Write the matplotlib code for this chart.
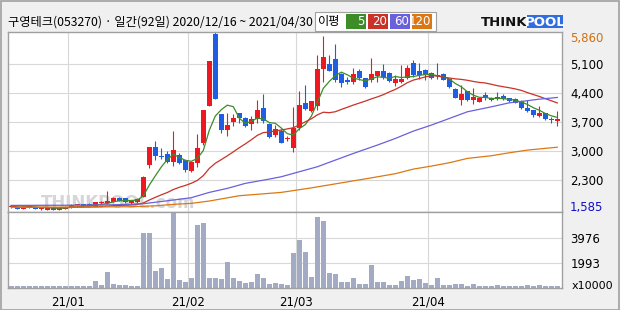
import numpy as np
import pandas as pd
import matplotlib
matplotlib.use("Agg")
import matplotlib.pyplot as plt
from matplotlib.patches import Rectangle

# --- data (daily, 2020/12/16 ~ 2021/04/30) ---
opens = [1655, 1670, 1625, 1645, 1670, 1605, 1597, 1645, 1590, 1625,
         1645, 1700, 1725, 1740, 1695, 1760, 1750, 1790, 1885, 1870,
         1750, 1775, 1910, 2666, 3105, 2890, 2930, 2746, 2906, 2786,
         2530, 2706, 3185, 4078, 5801, 3887, 3504, 3695, 3903, 3799,
         3647, 3759, 4022, 3647, 3384, 3488, 3300, 3081, 3560, 4158,
         3967, 4078, 4979, 5099, 5203, 4860, 4700, 4660, 4915, 4756,
         4700, 4796, 4915, 4884, 4637, 4660, 4764, 5115, 4915, 4940,
         4884, 4836, 4860, 4724, 4501, 4222, 4437, 4222, 4182, 4341,
         4262, 4286, 4318, 4270, 4238, 4198, 4038, 3982, 3839, 3903,
         3750, 3727]
highs = [1700, 1680, 1675, 1695, 1685, 1655, 1650, 1655, 1655, 1680,
         1730, 1720, 1735, 1750, 1780, 1810, 2045, 1890, 1895, 1885,
         1820, 1870, 2395, 3110, 3241, 3081, 3009, 3480, 2946, 2794,
         2760, 3400, 3990, 5160, 5860, 3900, 3903, 3879, 3910, 3823,
         3839, 4222, 4365, 3680, 3620, 3520, 3360, 4046, 4445, 4580,
         4205, 5299, 5753, 5299, 5562, 4870, 4780, 5003, 4963, 4760,
         5235, 4930, 5099, 4890, 4836, 5059, 5059, 5179, 5115, 4980,
         4900, 5115, 4870, 4740, 4510, 4581, 4445, 4525, 4290, 4421,
         4302, 4421, 4365, 4278, 4262, 4222, 4222, 3990, 4078, 3910,
         3823, 3958]
lows = [1645, 1615, 1615, 1640, 1605, 1600, 1590, 1585, 1588, 1615,
        1640, 1665, 1670, 1680, 1690, 1745, 1745, 1780, 1805, 1760,
        1740, 1765, 1905, 2586, 2786, 2802, 2706, 2642, 2690, 2507,
        2507, 2626, 3145, 4070, 4240, 3440, 3360, 3600, 3680, 3590,
        3504, 3680, 3663, 3304, 3340, 3190, 3250, 2985, 3504, 3982,
        3950, 3982, 4660, 4915, 4660, 4541, 4597, 4597, 4716, 4517,
        4660, 4645, 4740, 4645, 4557, 4621, 4740, 4780, 4724, 4700,
        4740, 4724, 4700, 4525, 4270, 4102, 4210, 4126, 4170, 4222,
        4198, 4222, 4222, 4182, 4142, 3998, 3942, 3823, 3823, 3743,
        3679, 3600]
closes = [1690, 1625, 1665, 1685, 1615, 1645, 1645, 1595, 1645, 1670,
          1710, 1705, 1680, 1690, 1775, 1770, 1810, 1885, 1815, 1775,
          1810, 1855, 2390, 3105, 2882, 2870, 2746, 3025, 2722, 2547,
          2746, 3081, 3982, 5155, 4246, 3504, 3624, 3799, 3791, 3600,
          3775, 3982, 3719, 3344, 3520, 3201, 3310, 3560, 4102, 4007,
          4198, 4963, 5259, 4924, 4700, 4621, 4645, 4860, 4756, 4541,
          4844, 4915, 4780, 4676, 4724, 4724, 4995, 4820, 4820, 4820,
          4756, 4812, 4716, 4541, 4278, 4365, 4222, 4302, 4278, 4278,
          4222, 4254, 4254, 4206, 4158, 4022, 3958, 3863, 3903, 3767,
          3743, 3767]
# volume in units of 10,000 shares
volume = [110, 110, 110, 110, 110, 110, 110, 110, 110, 110,
          110, 110, 110, 110, 531, 190, 1221, 270, 190, 190,
          110, 110, 4338, 4338, 1327, 1565, 690, 6200, 587, 428,
          745, 4948, 5133, 745, 745, 690, 2038, 745, 531, 372,
          451, 1062, 745, 270, 372, 270, 190, 2752, 3759, 2831,
          824, 5607, 5265, 1142, 1062, 428, 428, 745, 270, 270,
          1776, 428, 428, 190, 190, 507, 904, 587, 666, 349,
          190, 745, 190, 190, 270, 270, 110, 270, 110, 110,
          110, 190, 110, 110, 110, 110, 190, 110, 190, 110,
          110, 110]

ma60_idx = [0, 10, 17, 22, 27, 30, 33, 36, 39, 43, 45, 47, 51, 54, 57, 61, 64, 67,
            70, 73, 76, 80, 83, 85, 88, 91]
ma60_val = [1700, 1705, 1715, 1740, 1829, 1885, 2012, 2108, 2228, 2331, 2387, 2467,
            2626, 2786, 2945, 3145, 3304, 3480, 3624, 3783, 3943, 4062, 4158, 4190,
            4246, 4286]
ma120_idx = [0, 10, 20, 24, 27, 30, 33, 38, 45, 50, 55, 60, 64, 67, 70, 73, 76, 80,
             83, 86, 91]
ma120_val = [1655, 1660, 1668, 1690, 1725, 1749, 1805, 1932, 2012, 2120, 2240, 2360,
             2460, 2570, 2642, 2722, 2826, 2890, 2961, 3025, 3095]

month_start = [10, 30, 48, 70]
month_labels = ["21/01", "21/02", "21/03", "21/04"]
price_ticks = [2300, 3000, 3700, 4400, 5100]
vol_ticks = [1993, 3976]

title = "구영테크(053270) · 일간(92일) 2020/12/16 ~ 2021/04/30"
ma_names = ["5", "20", "60", "120"]
ma_colors = ["#3c8c28", "#c83228", "#6a60dc", "#dc7814"]

UP = "#f01820"
DOWN = "#1f5ee2"
BG = "#f0f0f0"
GRID = "#d8d8d8"
FRAME = "#a0a0a0"
narrow = ["Liberation Sans Narrow", "DejaVu Sans"]
kr = ["Noto Sans CJK KR", "DejaVu Sans"]

W, H = 620, 310
def fx(px):
    return px / W
def fy(py):
    return 1 - py / H

fig = plt.figure(figsize=(6.2, 3.1), dpi=100, facecolor=BG)
ax = fig.add_axes([fx(7.7), fy(212.3), fx(562.3 - 7.7), (212.3 - 31.7) / H])
axv = fig.add_axes([fx(7.7), fy(287.7), fx(562.3 - 7.7), (287.7 - 212.3) / H], sharex=ax)

o = np.array(opens); c = np.array(closes); hi = np.array(highs); lo = np.array(lows)
x = np.arange(len(o))
cols = np.where(c >= o, UP, DOWN)

# candles
ax.vlines(x, lo, hi, colors=cols, lw=0.8, zorder=2)
body = np.maximum(np.abs(c - o), 22)
ax.bar(x, body, bottom=np.minimum(o, c), width=0.82, color=cols, linewidth=0, zorder=2)

# moving averages
s = pd.Series(closes)
ax.plot(x, s.rolling(5, min_periods=1).mean(), color=ma_colors[0], lw=0.9, zorder=3)
ax.plot(x, s.rolling(20, min_periods=1).mean(), color=ma_colors[1], lw=0.9, zorder=3)
ax.plot(ma60_idx, ma60_val, color=ma_colors[2], lw=0.9, zorder=3)
ax.plot(ma120_idx, ma120_val, color=ma_colors[3], lw=0.9, zorder=3)

# watermark
ax.text(0.06, 0.025, "THINKPOOL.com", transform=ax.transAxes, fontsize=12, fontweight="bold",
        color="#d6d6d6", zorder=0.5)

ax.set_xlim(-0.6, 91.83)
ax.set_ylim(1535, 5862)
ax.set_yticks(price_ticks)
ax.set_yticklabels([f"{v:,}" for v in price_ticks])
ax.yaxis.tick_right()
ax.tick_params(axis="y", length=0, pad=5.5, labelsize=8.5)
ax.tick_params(axis="x", length=0, labelbottom=False)
ax.set_xticks([m - 0.5 for m in month_start])
for lab in ax.get_yticklabels():
    lab.set_family(narrow)
ax.grid(True, color=GRID, lw=0.8, zorder=0)
ax.set_axisbelow(True)

# highest / lowest price labels
ax.annotate(f"{max(highs):,}", xy=(1, max(highs)), xycoords=ax.get_yaxis_transform(),
            xytext=(5.5, -4.7), textcoords="offset points", va="center", ha="left",
            fontsize=8.5, color="#d07010", family=narrow, annotation_clip=False)
ax.annotate(f"{min(lows):,}", xy=(1, min(lows)), xycoords=ax.get_yaxis_transform(),
            xytext=(5.5, 2.3), textcoords="offset points", va="center", ha="left",
            fontsize=8.5, color="#1010c8", family=narrow, annotation_clip=False)

# volume
axv.bar(x, volume, width=0.82, color="#a2aac4", linewidth=0, zorder=2)
axv.set_ylim(0, 5980)
axv.set_yticks(vol_ticks)
axv.set_yticklabels([str(v) for v in vol_ticks])
axv.yaxis.tick_right()
axv.tick_params(axis="y", length=0, pad=6, labelsize=8.5)
axv.set_xticks([m - 0.5 for m in month_start])
axv.set_xticklabels(month_labels)
axv.tick_params(axis="x", length=0, pad=5.5, labelsize=8.5)
for lab in axv.get_yticklabels() + axv.get_xticklabels():
    lab.set_family(narrow)
axv.grid(True, color=GRID, lw=0.8, zorder=0)
axv.set_axisbelow(True)
fig.text(fx(613), fy(286), "x10000", ha="right", va="center", fontsize=8, family=narrow)

for a in (ax, axv):
    a.set_facecolor("white")
    for sp in a.spines.values():
        sp.set_color(FRAME)
        sp.set_linewidth(1)

# header
fig.text(fx(8), fy(22), title, fontsize=8.8, family=kr, va="center", ha="left")

# MA legend box
fig.add_artist(Rectangle((fx(315), fy(31)), fx(121), 19 / H, transform=fig.transFigure,
                         facecolor="white", edgecolor=FRAME, lw=0.8))
fig.text(fx(318), fy(22), "이평", fontsize=8.8, family=kr, va="center", ha="left")
for k, (name, col) in enumerate(zip(ma_names, ma_colors)):
    left = 346 + 22 * k
    fig.add_artist(Rectangle((fx(left), fy(29)), fx(20), 15 / H, transform=fig.transFigure,
                             facecolor=col, edgecolor="none"))
    fig.text(fx(left + 19), fy(21.5), name, fontsize=8.5, color="white", family=narrow,
             va="center", ha="right")

# logo
fig.text(fx(527), fy(22), "THINK", fontsize=9.5, fontweight="bold", color="#111111",
         va="center", ha="right")
fig.add_artist(Rectangle((fx(527), fy(28)), fx(36), 13 / H, transform=fig.transFigure,
                         facecolor="#2f6de0", edgecolor="none"))
fig.text(fx(545), fy(22), "POOL", fontsize=9.5, fontweight="bold", color="white",
         va="center", ha="center")

# outer frame
fig.add_artist(Rectangle((fx(0.5), fy(309.5)), fx(618.5), 309 / H, transform=fig.transFigure,
                         fill=False, edgecolor=FRAME, lw=1.2))

fig.savefig("out.png", dpi=100, facecolor=BG)
